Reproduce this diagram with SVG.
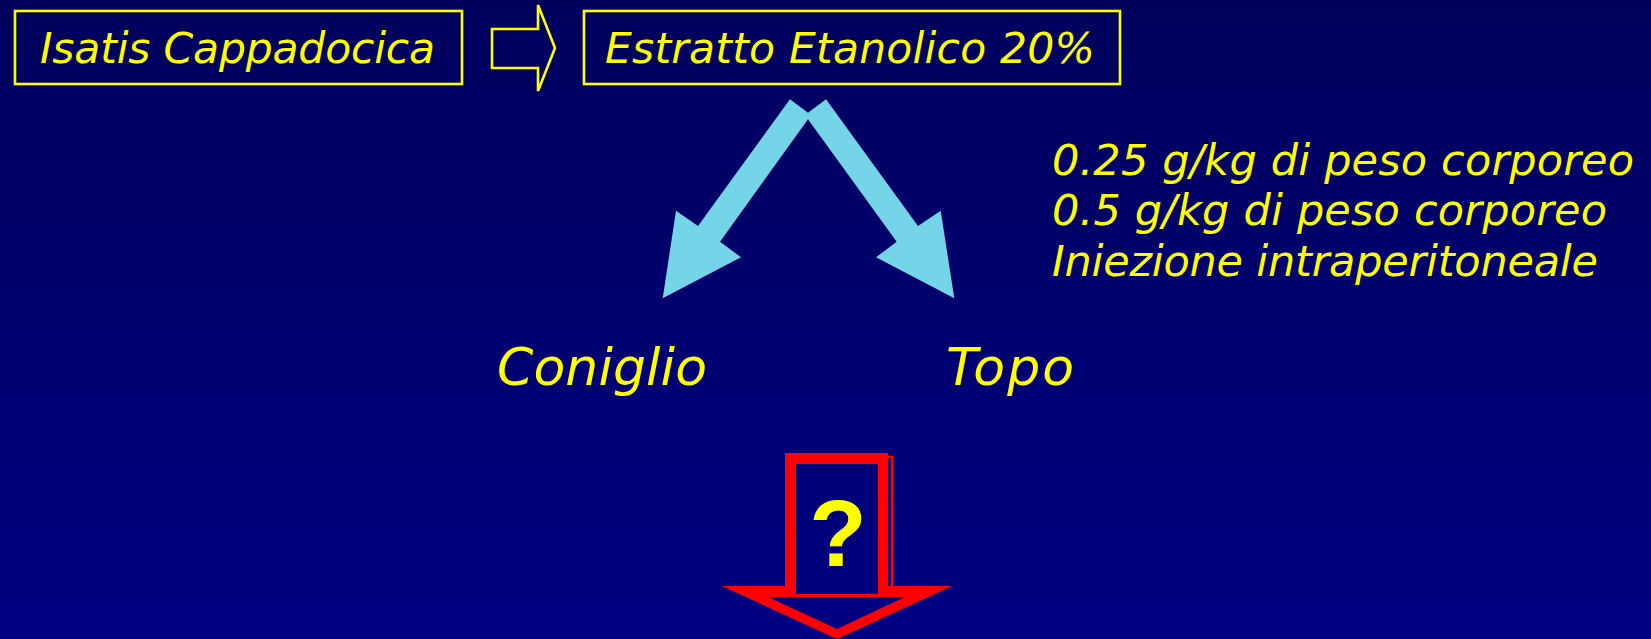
<svg xmlns="http://www.w3.org/2000/svg" width="1651" height="639" viewBox="0 0 1651 639">
  <defs>
    <linearGradient id="bg" gradientUnits="userSpaceOnUse" x1="0" y1="0" x2="0" y2="639">
      <stop offset="0" stop-color="#00005c"/>
      <stop offset="1" stop-color="#000082"/>
    </linearGradient>
  </defs>
  <style>
    .txt { font-family: "DejaVu Sans", "Liberation Sans", sans-serif; font-style: italic; fill: #ffff00; }
    .box { fill: none; stroke: #ffff00; stroke-width: 2.6; }
    .blue { fill: #75d5e8; }
    .red { fill: #ff0000; }
  </style>
  <rect x="0" y="0" width="1651" height="639" fill="url(#bg)"/>

  <g id="node-isatis">
    <rect class="box" x="15" y="11" width="447" height="73"/>
    <text class="txt" x="40" y="63" font-size="42.5" textLength="395" lengthAdjust="spacing">Isatis Cappadocica</text>
  </g>

  <g id="node-estratto">
    <rect class="box" x="584" y="11" width="536" height="73"/>
    <text class="txt" x="605" y="63" font-size="42.5" textLength="490" lengthAdjust="spacing">Estratto Etanolico 20%</text>
  </g>

  <g id="node-dosi">
    <text class="txt" x="1052" y="175" font-size="43" textLength="582" lengthAdjust="spacing">0.25 g/kg di peso corporeo</text>
    <text class="txt" x="1052" y="225" font-size="43" textLength="555" lengthAdjust="spacing">0.5 g/kg di peso corporeo</text>
    <text class="txt" x="1052" y="276" font-size="43" textLength="546" lengthAdjust="spacing">Iniezione intraperitoneale</text>
  </g>

  <g id="node-coniglio">
    <text class="txt" x="497" y="385" font-size="52" textLength="210" lengthAdjust="spacing">Coniglio</text>
  </g>

  <g id="node-topo">
    <text class="txt" x="946" y="385" font-size="52" textLength="128" lengthAdjust="spacing">Topo</text>
  </g>

  <g id="node-question">
    <polygon class="red" points="722,586 952,586 837,639"/>
    <rect x="789" y="457" width="103" height="140" fill="none" stroke="#ff0000" stroke-width="2.5"/>
    <rect class="red" x="785" y="453" width="103" height="144"/>
    <rect x="796" y="464" width="82" height="130" fill="url(#bg)"/>
    <polygon points="768,597 905,597 837,629" fill="url(#bg)"/>
    <text x="838" y="566" font-family="'Liberation Sans', Arial, sans-serif" font-weight="bold" font-size="94" fill="#ffff00" text-anchor="middle">?</text>
  </g>

  <g id="connectors">
    <polygon points="492,29 538,29 538,5 555,48 538,91 538,68 492,68" fill="none" stroke="#ffff00" stroke-width="2.6"/>
    <polygon class="blue" points="790,99.3 808,112.7 826,99.3 918,226 940.7,210.7 954.3,298.3 876,257.3 896.7,241.7 808,119.3 720,241.7 741,257.3 662.7,298.3 676,210.7 698,226"/>
  </g>
</svg>
